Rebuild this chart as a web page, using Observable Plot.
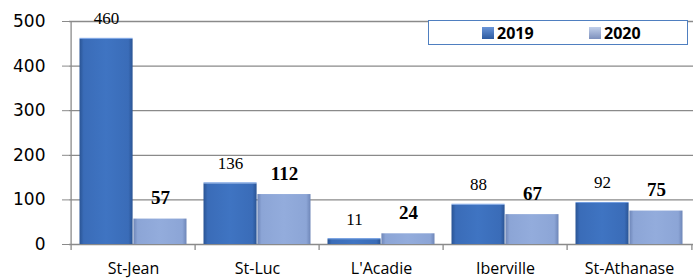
<!DOCTYPE html>
<html><head><meta charset="utf-8">
<script src="https://cdn.jsdelivr.net/npm/d3@7"></script>
<script src="https://cdn.jsdelivr.net/npm/@observablehq/plot@0.6"></script>
<style>
body{margin:0;background:#fff;}
#wrap{position:relative;width:693px;height:280px;}
#legend{position:absolute;left:428px;top:20px;width:258px;height:23px;border:1.5px solid #4f7fc0;background:#fff;font:bold 16px "Open Sans",sans-serif;}
.item{position:absolute;top:1px;display:flex;align-items:center;gap:3px;}
.sw{width:12px;height:12px;display:inline-block;}
</style></head>
<body><div id="wrap"><div id="legend"></div></div>
<script>
const categories = ["St-Jean", "St-Luc", "L'Acadie", "Iberville", "St-Athanase"];
const values2019 = [460, 136, 11, 88, 92];
const values2020 = [57, 112, 24, 67, 75];
const yTicks = [0, 100, 200, 300, 400, 500];
const seriesNames = ["2019", "2020"];

const d19 = categories.map((c, i) => ({cat: c, v: values2019[i]}));
const d20 = categories.map((c, i) => ({cat: c, v: values2020[i]}));
const grey = "#8a8a8a";
const half = (693 - 69) / 5 / 2;

const plot = Plot.plot({
  width: 693, height: 280,
  marginLeft: 69, marginRight: 0, marginTop: 21, marginBottom: 36,
  style: {fontFamily: "Open Sans, sans-serif", background: "white"},
  x: {domain: categories, padding: 0, label: null},
  y: {domain: [0, 500], label: null},
  marks: [
    Plot.gridY({ticks: yTicks, stroke: grey, strokeOpacity: 1, strokeWidth: 1.3}),
    Plot.axisY({ticks: yTicks, tickSize: 7, tickPadding: 17, fontSize: 17, fontFamily: "DejaVu Sans", stroke: grey, fill: "black", label: null}),
    Plot.axisX({tickSize: 0, tickPadding: 18, fontSize: 16, fontFamily: "Open Sans", fill: "black", label: null}),
    Plot.ruleX([categories[0]], {x: d => d, dx: -half, stroke: grey, strokeWidth: 1.3}),
    Plot.ruleX(categories, {x: d => d, dx: -half, y1: 0, y2: 0, insetBottom: -6, stroke: grey, strokeWidth: 1.3}),
    Plot.ruleX([categories[categories.length - 1]], {x: d => d, dx: half, y1: 0, y2: 0, insetBottom: -6, stroke: grey, strokeWidth: 1.3}),
    Plot.barY(d19, {x: "cat", y: "v", fill: "url(#g2019)", insetLeft: 8.5, insetRight: half}),
    Plot.barY(d20, {x: "cat", y: "v", fill: "url(#g2020)", insetLeft: half, insetRight: 8.5}),
    Plot.barY(d19, {x: "cat", y1: "v", y2: d => d.v, fill: "#6f9be0", insetLeft: 8.5, insetRight: half, insetTop: -1}),
    Plot.text(d19, {x: "cat", y: "v", text: d => String(d.v), dx: -27, dy: -15, lineAnchor: "bottom", fontFamily: "Liberation Serif", fontSize: 17, fill: "black"}),
    Plot.text(d20, {x: "cat", y: "v", text: d => String(d.v), dx: 27, dy: -15, lineAnchor: "bottom", fontFamily: "Liberation Serif", fontSize: 19, fontWeight: "bold", fill: "black"})
  ]
});

const svg = d3.select(plot);
const defs = svg.insert("defs", ":first-child");
function grad(id, edge, mid, light) {
  const g = defs.append("linearGradient").attr("id", id).attr("x1", "0").attr("x2", "1").attr("y1", "0").attr("y2", "0");
  g.append("stop").attr("offset", "0").attr("stop-color", edge);
  g.append("stop").attr("offset", "0.08").attr("stop-color", mid);
  g.append("stop").attr("offset", "0.5").attr("stop-color", light);
  g.append("stop").attr("offset", "0.92").attr("stop-color", mid);
  g.append("stop").attr("offset", "1").attr("stop-color", edge);
}
grad("g2019", "#2a5494", "#3a6cb8", "#3f74c2");
grad("g2020", "#6e86b8", "#8ca5d6", "#93acdc");

document.getElementById("wrap").prepend(plot);

const legend = document.getElementById("legend");
const swatch = ["linear-gradient(#6a95d8,#2c5aa0)", "linear-gradient(#c2d0ea,#7d90bd)"];
const lefts = [53, 160];
seriesNames.forEach((n, i) => {
  const it = document.createElement("div");
  it.className = "item";
  it.style.left = lefts[i] + "px";
  it.innerHTML = `<span class="sw" style="background:${swatch[i]}"></span><span>${n}</span>`;
  legend.appendChild(it);
});
</script>
</body></html>
